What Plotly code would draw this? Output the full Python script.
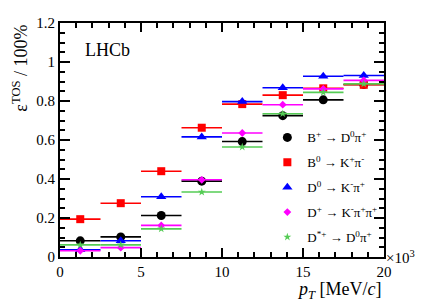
import plotly.graph_objects as go

# bin centres in MeV
pt_centres = [1250, 3750, 6250, 8750, 11250, 13750, 16250, 18750]
bin_half_width = [1250] * 8

eff_Bp_D0pi = [0.083, 0.103, 0.213, 0.389, 0.592, 0.725, 0.806, 0.885]
eff_B0_Kpi = [0.194, 0.276, 0.440, 0.663, 0.784, 0.830, 0.865, 0.883]
eff_D0_Kpi = [0.037, 0.083, 0.309, 0.616, 0.797, 0.868, 0.927, 0.931]
eff_Dp_Kpipi = [0.032, 0.048, 0.162, 0.396, 0.636, 0.781, 0.862, 0.906]
eff_Dst_D0pi = [0.062, 0.062, 0.144, 0.333, 0.564, 0.735, 0.844, 0.888]

err_Bp = [0.006, 0.006, 0.006, 0.006, 0.008, 0.008, 0.01, 0.01]
err_small = [0.004] * 8

x_tick_vals = [0, 5000, 10000, 15000, 20000]
x_tick_text = ["0", "5", "10", "15", "20"]
y_tick_vals = [0, 0.2, 0.4, 0.6, 0.8, 1.0, 1.2]
y_tick_text = ["0", "0.2", "0.4", "0.6", "0.8", "1", "1.2"]

series = [
    ("B<sup>+</sup> → D<sup>0</sup>π<sup>+</sup>", eff_Bp_D0pi, err_Bp, "black", "circle", 9),
    ("B<sup>0</sup> → K<sup>+</sup>π<sup>-</sup>", eff_B0_Kpi, err_small, "#ff0000", "square", 8),
    ("D<sup>0</sup> → K<sup>-</sup>π<sup>+</sup>", eff_D0_Kpi, err_small, "#0000ff", "triangle-up", 9),
    ("D<sup>+</sup> → K<sup>-</sup>π<sup>+</sup>π<sup>+</sup>", eff_Dp_Kpipi, err_small, "#ff00ff", "diamond", 6),
    ("D<sup>*+</sup> → D<sup>0</sup>π<sup>+</sup>", eff_Dst_D0pi, err_small, "#55cc55", "star", 6),
]

fig = go.Figure()
for i, (name, vals, errs, col, sym, size) in enumerate(series):
    fig.add_trace(go.Scatter(
        x=pt_centres, y=vals, name=name, mode="markers",
        legendgroup=f"g{i}",
        marker=dict(color=col, symbol=sym, size=size, line=dict(width=0)),
        error_x=dict(type="data", array=bin_half_width, color=col, thickness=1.6, width=0),
        error_y=dict(type="data", array=errs, color=col, thickness=1.6, width=0),
    ))

font_family = "Liberation Serif"
axis_common = dict(showline=True, linecolor="black", linewidth=2, mirror="ticks",
                   ticks="inside", tickcolor="black", tickwidth=1.5,
                   showgrid=False, zeroline=False,
                   tickfont=dict(family=font_family, size=15, color="black"))

fig.update_xaxes(range=[0, 20000], tickvals=x_tick_vals, ticktext=x_tick_text, ticklen=9,
                 minor=dict(ticks="inside", dtick=1000, tick0=0, ticklen=5, tickcolor="black", tickwidth=1.5),
                 **axis_common)
fig.update_yaxes(range=[0, 1.2], tickvals=y_tick_vals, ticktext=y_tick_text, ticklen=10,
                 minor=dict(ticks="inside", dtick=0.05, tick0=0, ticklen=5, tickcolor="black", tickwidth=1.5),
                 **axis_common)

fig.update_layout(
    width=419, height=299,
    margin=dict(l=52, r=43, t=7, b=50),
    paper_bgcolor="white", plot_bgcolor="white",
    font=dict(family=font_family, color="black"),
    legend=dict(x=0.64, y=0.575, xanchor="left", yanchor="top",
                bgcolor="rgba(0,0,0,0)", font=dict(family=font_family, size=13),
                tracegroupgap=5, itemwidth=30),
    annotations=[
        dict(text="LHCb", x=0.07, y=0.885, xref="paper", yref="paper", xanchor="left",
             yanchor="middle", showarrow=False, font=dict(size=18, family=font_family)),
        dict(text="<i>p</i><sub><i>T</i></sub> [MeV/<i>c</i>]", x=1.0, y=-0.085, xref="paper", yref="paper",
             xanchor="right", yanchor="top", showarrow=False, font=dict(size=18, family=font_family)),
        dict(text="×10<sup>3</sup>", x=1.0, y=0.0, xref="paper", yref="paper",
             xanchor="left", yanchor="middle", showarrow=False, font=dict(size=15, family=font_family)),
        dict(text="ε<sup>TOS</sup> / 100%", x=-0.123, y=1.0, xref="paper", yref="paper",
             xanchor="center", yanchor="top", textangle=-90, showarrow=False,
             font=dict(size=18, family=font_family)),
    ],
)

fig.write_html("out.html")
